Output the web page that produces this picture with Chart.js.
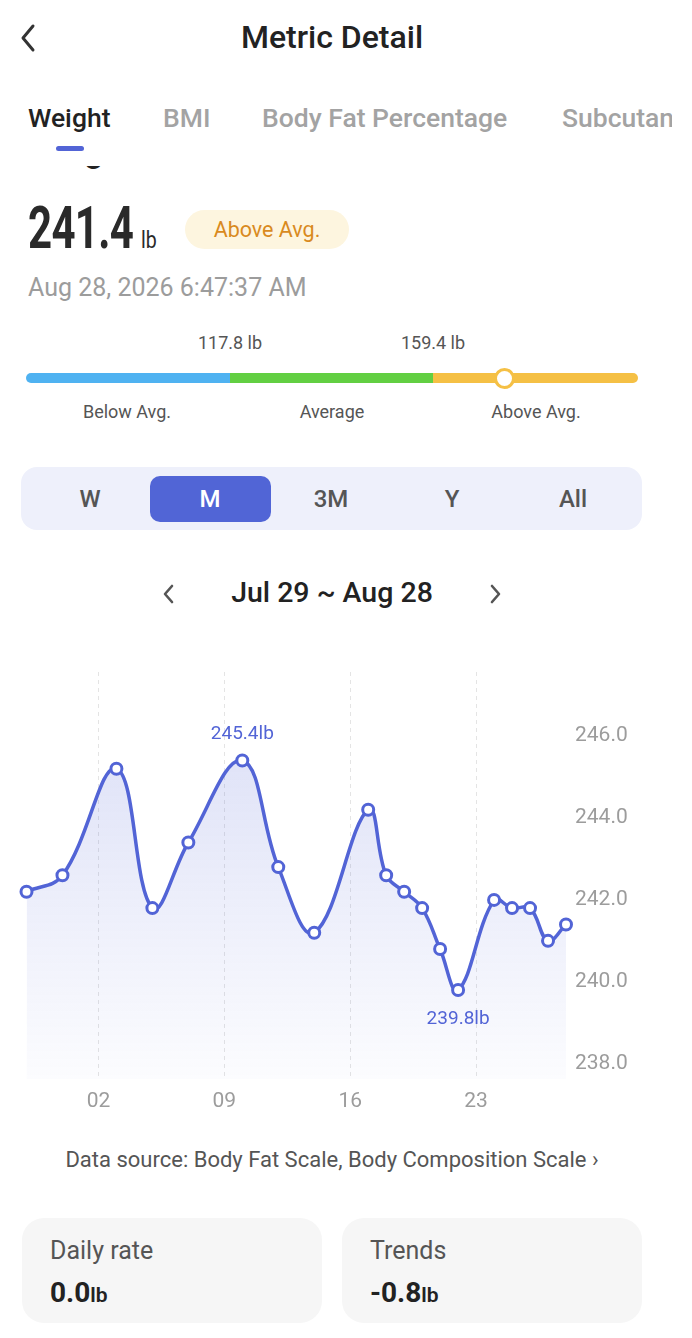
<!DOCTYPE html>
<html>
<head>
<meta charset="utf-8">
<script src="https://cdn.jsdelivr.net/npm/chart.js@4"></script>
<style>
  html, body { margin: 0; padding: 0; background: #fff; }
  body { width: 692px; height: 1338px; position: relative; overflow: hidden; font-family: Roboto, "Noto Sans", sans-serif; color: #222; }
  .abs { position: absolute; white-space: nowrap; }
  .title { left: 0; width: 664px; top: 18px; text-align: center; font-size: 32px; font-weight: 500; color: #222; }
  .tabs { left: 0; top: 100px; width: 672px; height: 40px; overflow: hidden; }
  .tab { position: absolute; top: 2px; white-space: nowrap; font-size: 26.5px; font-weight: 500; color: #a3a3a3; }
  .tab.on { color: #222; }
  .underline { left: 56px; top: 146px; width: 28px; height: 5px; border-radius: 3px; background: #5264d6; }
  .clip { left: 0; top: 166px; width: 300px; height: 8px; overflow: hidden; }
  .clip span { position: absolute; left: 28px; top: -33px; font-size: 34px; line-height: 34px; font-weight: 500; color: #222; }
  .big { left: 28px; top: 192px; font-size: 60px; font-weight: 700; color: #2a2a2a; transform: scaleX(0.7); transform-origin: left top; letter-spacing: -1px; }
  .unit { left: 141px; top: 227px; font-size: 23px; color: #2a2a2a; transform: scaleX(0.85); transform-origin: left top; }
  .badge { left: 185px; top: 210px; width: 164px; height: 39px; border-radius: 20px; background: #fdf5df; color: #d98a1e; font-size: 21.5px; line-height: 39px; text-align: center; }
  .stamp { left: 28px; top: 273px; font-size: 25px; color: #9c9c9c; }
  .small { font-size: 18px; color: #555; transform: translateX(-50%); }
  .bar { top: 373px; height: 10px; }
  .seg { left: 21px; top: 467px; width: 621px; height: 63px; border-radius: 16px; background: #eef0fb; }
  .pill { left: 150px; top: 476px; width: 121px; height: 46px; border-radius: 10px; background: #5165d6; }
  .opt { top: 485px; font-size: 24px; font-weight: 500; color: #555; transform: translateX(-50%); }
  .range { left: 0; width: 664px; top: 576px; text-align: center; font-size: 28.5px; font-weight: 500; color: #222; }
  .source { left: 0; width: 664px; top: 1147px; text-align: center; font-size: 22px; color: #555; }
  .card { top: 1218px; width: 300px; height: 105px; border-radius: 22px; background: #f6f6f6; }
  .card .lab { position: absolute; left: 28px; top: 18px; font-size: 25px; color: #555; }
  .card .val { position: absolute; left: 28px; top: 58px; font-size: 28px; font-weight: 700; color: #222; }
  .card .val small { font-size: 21px; font-weight: 600; }
  #chartBox { position: absolute; left: 18px; top: 661px; width: 648px; height: 460px; }
</style>
</head>
<body>
  <svg class="abs" style="left:16px;top:22px" width="24" height="32"><polyline points="17,4 7,16 17,28" fill="none" stroke="#333" stroke-width="3" stroke-linecap="round" stroke-linejoin="round"/></svg>
  <div class="abs title">Metric Detail</div>

  <div class="abs tabs">
    <div class="tab on" style="left:28px">Weight</div>
    <div class="tab" style="left:163px">BMI</div>
    <div class="tab" style="left:262px">Body Fat Percentage</div>
    <div class="tab" style="left:562px">Subcutaneous Fat</div>
  </div>
  <div class="abs underline"></div>

  <div class="abs clip"><span>Weight</span></div>
  <div class="abs big">241.4</div>
  <div class="abs unit">lb</div>
  <div class="abs badge">Above Avg.</div>
  <div class="abs stamp">Aug 28, 2026 6:47:37 AM</div>

  <div class="abs small" style="left:230px;top:332px">117.8 lb</div>
  <div class="abs small" style="left:433px;top:332px">159.4 lb</div>
  <div class="abs bar" style="left:26px;width:204px;background:#4fb2f1;border-radius:5px 0 0 5px"></div>
  <div class="abs bar" style="left:230px;width:203px;background:#62cf42"></div>
  <div class="abs bar" style="left:433px;width:205px;background:#f5c045;border-radius:0 5px 5px 0"></div>
  <div class="abs" style="left:494px;top:368px;width:15px;height:15px;border-radius:50%;background:#fff;border:3px solid #f5c045"></div>
  <div class="abs small" style="left:127px;top:401px">Below Avg.</div>
  <div class="abs small" style="left:332px;top:401px">Average</div>
  <div class="abs small" style="left:536px;top:401px">Above Avg.</div>

  <div class="abs seg"></div>
  <div class="abs pill"></div>
  <div class="abs opt" style="left:90px">W</div>
  <div class="abs opt" style="left:210px;color:#fff">M</div>
  <div class="abs opt" style="left:331px">3M</div>
  <div class="abs opt" style="left:452px">Y</div>
  <div class="abs opt" style="left:573px">All</div>

  <svg class="abs" style="left:160px;top:582px" width="18" height="24"><polyline points="12,4 5,12 12,20" fill="none" stroke="#555" stroke-width="2.6" stroke-linecap="round" stroke-linejoin="round"/></svg>
  <div class="abs range">Jul 29 ~ Aug 28</div>
  <svg class="abs" style="left:486px;top:582px" width="18" height="24"><polyline points="6,4 13,12 6,20" fill="none" stroke="#555" stroke-width="2.6" stroke-linecap="round" stroke-linejoin="round"/></svg>

  <div id="chartBox"><canvas id="weightChart"></canvas></div>

  <div class="abs source">Data source: Body Fat Scale, Body Composition Scale &#8250;</div>

  <div class="abs card" style="left:22px"><div class="lab">Daily rate</div><div class="val">0.0<small>lb</small></div></div>
  <div class="abs card" style="left:342px"><div class="lab">Trends</div><div class="val">-0.8<small>lb</small></div></div>

<script>
const startDate = "2026-07-29";
const endDate = "2026-08-28";
const dates = [
    "2026-07-29", "2026-07-31", "2026-08-03", "2026-08-05", "2026-08-07",
    "2026-08-10", "2026-08-12", "2026-08-14", "2026-08-17", "2026-08-18",
    "2026-08-19", "2026-08-20", "2026-08-21", "2026-08-22", "2026-08-24",
    "2026-08-25", "2026-08-26", "2026-08-27", "2026-08-28"
];
const weights = [
    242.2, 242.6, 245.2, 241.8, 243.4,
    245.4, 242.8, 241.2, 244.2, 242.6,
    242.2, 241.8, 240.8, 239.8, 242.0,
    241.8, 241.8, 241.0, 241.4
];
const tickDates = ["2026-08-02", "2026-08-09", "2026-08-16", "2026-08-23"];
const tickLabels = ["02", "09", "16", "23"];
const yTicks = [238, 240, 242, 244, 246];

const blue = "#5264d6";
const dayMs = 86400000;
function dayIndex(d) {
    return Math.round((Date.parse(d) - Date.parse(startDate)) / dayMs);
}
const points = dates.map((d, i) => ({ x: dayIndex(d), y: weights[i] }));
const tickPos = tickDates.map(dayIndex);

// labels on the highest and lowest reading
const extremeLabels = {
    id: "extremeLabels",
    afterDatasetsDraw(chart) {
        const ctx = chart.ctx;
        const meta = chart.getDatasetMeta(0);
        const hi = weights.indexOf(Math.max(...weights));
        const lo = weights.indexOf(Math.min(...weights));
        ctx.save();
        ctx.font = "19px Roboto";
        ctx.fillStyle = blue;
        ctx.textAlign = "center";
        ctx.textBaseline = "middle";
        ctx.fillText(weights[hi].toFixed(1) + "lb", meta.data[hi].x, meta.data[hi].y - 26);
        ctx.fillText(weights[lo].toFixed(1) + "lb", meta.data[lo].x, meta.data[lo].y + 29);
        ctx.restore();
    }
};

const weightChart = new Chart(document.getElementById("weightChart"), {
    type: "line",
    data: {
        datasets: [{
            label: "Weight",
            data: points,
            borderColor: blue,
            borderWidth: 3.5,
            tension: 0.4,
            fill: "start",
            backgroundColor: function(c) {
                const area = c.chart.chartArea;
                if (!area) return "rgba(82,100,214,0.15)";
                const g = c.chart.ctx.createLinearGradient(0, area.top, 0, area.bottom);
                g.addColorStop(0, "rgba(82,100,214,0.22)");
                g.addColorStop(1, "rgba(82,100,214,0.02)");
                return g;
            },
            pointRadius: 5.5,
            pointBorderWidth: 3,
            pointBackgroundColor: "#fff",
            pointBorderColor: blue
        }]
    },
    options: {
        responsive: true,
        maintainAspectRatio: false,
        animation: false,
        clip: false,
        layout: { padding: { top: 11, left: 0, right: 0, bottom: 0 } },
        plugins: {
            legend: { display: false },
            tooltip: { enabled: false }
        },
        scales: {
            x: {
                type: "linear",
                min: 0,
                max: dayIndex(endDate),
                afterBuildTicks: function(s) { s.ticks = tickPos.map(v => ({ value: v })); },
                afterFit: function(s) { s.height = 42; },
                ticks: {
                    padding: 10,
                    color: "#9c9c9c",
                    font: { family: "Roboto", size: 21 },
                    callback: function(v) { return tickLabels[tickPos.indexOf(v)]; }
                },
                grid: { color: "#e4e4e4", lineWidth: 1, drawTicks: false },
                border: { display: false, dash: [4, 4] }
            },
            y: {
                position: "right",
                min: 237.63,
                max: 247.56,
                afterBuildTicks: function(s) { s.ticks = yTicks.map(v => ({ value: v })); },
                afterFit: function(s) { s.width = 100; s.paddingTop = 0; s.paddingBottom = 0; },
                ticks: {
                    padding: 9,
                    color: "#9c9c9c",
                    font: { family: "Roboto", size: 21 },
                    callback: function(v) { return v.toFixed(1); }
                },
                grid: { display: false, drawTicks: false },
                border: { display: false }
            }
        }
    },
    plugins: [extremeLabels]
});
</script>
</body>
</html>
